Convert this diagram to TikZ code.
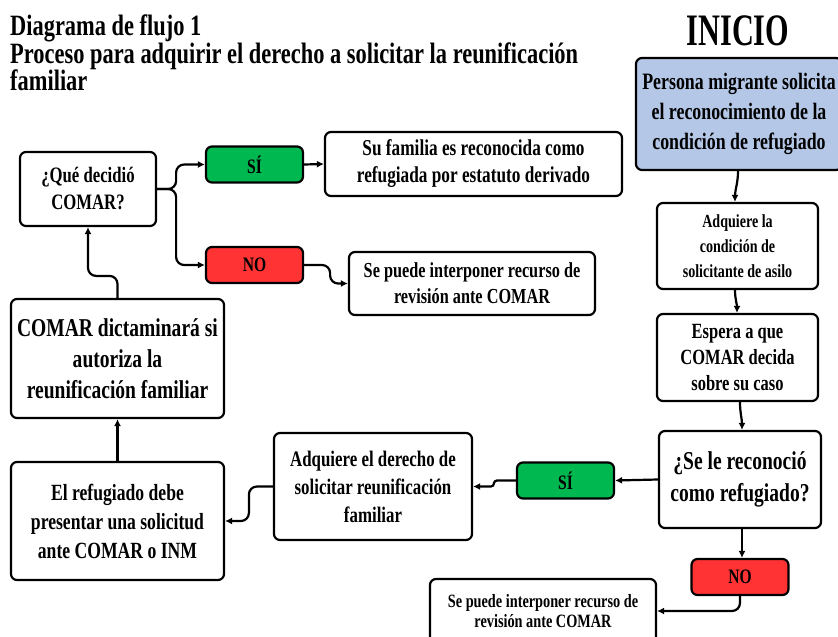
\documentclass[tikz,border=0pt]{standalone}
\usepackage{fontspec}
\usepackage{graphicx}
\setmainfont{Liberation Serif}[FakeStretch=0.76]
\usetikzlibrary{arrows.meta}
\definecolor{boxblue}{HTML}{B4C7E7}
\definecolor{sigreen}{HTML}{00B850}
\definecolor{nored}{HTML}{FF3333}
\newcommand{\fsz}[2]{\fontsize{#1}{#2}\selectfont\bfseries}
\tikzset{
  x=1pt, y=-1pt,
  flowbox/.style={draw=black, line width=2.2pt, rounded corners=6pt, align=center, inner sep=0pt, fill=white},
  sibox/.style={flowbox, fill=sigreen, minimum width=97pt, minimum height=36pt, font=\fsz{20.5}{22}},
  nobox/.style={flowbox, fill=nored, minimum width=97pt, minimum height=36pt, font=\fsz{20.5}{22}},
  arr/.style={line width=2.2pt, -{Latex[length=7pt,width=7pt]}, rounded corners=8pt},
}
\begin{document}
\begin{tikzpicture}
\useasboundingbox (0,0) rectangle (838,637);
% title
\node[anchor=north west, align=left, inner sep=0pt, font=\fsz{29.5}{27.5}] (title) at (10,15)
  {Diagrama de flujo 1\\Proceso para adquirir el derecho a solicitar la reunificación\\familiar};
\node[inner sep=0pt, font=\fsz{45}{46}] (inicio) at (738,31) {\scalebox{0.885}[1]{INICIO}};
% right column
\node[flowbox, fill=boxblue, minimum width=206pt, minimum height=112pt, font=\fsz{23.5}{30}] (start) at (739,114)
  {Persona migrante solicita\\el reconocimiento de la\\condición de refugiado};
\node[flowbox, minimum width=161pt, minimum height=86pt, font=\fsz{18.5}{25}] (b2) at (737.5,246)
  {Adquiere la\\condición de\\solicitante de asilo};
\node[flowbox, minimum width=161pt, minimum height=87pt, font=\fsz{21.7}{26}] (b3) at (737.5,357.5)
  {Espera a que\\COMAR decida\\sobre su caso};
\node[flowbox, minimum width=162pt, minimum height=97pt, font=\fsz{25.7}{32}] (b4) at (740,479.5)
  {¿Se le reconoció\\como refugiado?};
\node[sibox] (si2) at (565.5,480.5) {SÍ};
\node[nobox] (no2) at (740,577) {NO};
\node[flowbox, minimum width=226pt, minimum height=64pt, font=\fsz{18.8}{20}] (rec2) at (543,611)
  {Se puede interponer recurso de\\revisión ante COMAR};
\node[flowbox, minimum width=198pt, minimum height=107pt, font=\fsz{22.2}{28}] (adq) at (373,486.5)
  {Adquiere el derecho de\\solicitar reunificación\\familiar};
\node[flowbox, minimum width=213pt, minimum height=118pt, font=\fsz{23.2}{29}] (ref) at (117.5,521)
  {El refugiado debe\\presentar una solicitud\\ante COMAR o INM};
\node[flowbox, minimum width=213pt, minimum height=119pt, font=\fsz{25.7}{31}] (dict) at (117.5,358.5)
  {COMAR dictaminará si\\autoriza la\\reunificación familiar};
\node[flowbox, minimum width=136pt, minimum height=74pt, font=\fsz{22}{27}] (que) at (88,189)
  {¿Qué decidió\\COMAR?};
\node[sibox] (si1) at (254.5,164.5) {SÍ};
\node[nobox] (no1) at (254.5,265) {NO};
\node[flowbox, minimum width=297pt, minimum height=64pt, font=\fsz{22.7}{27}] (fam) at (473.5,164)
  {Su familia es reconocida como\\refugiada por estatuto derivado};
\node[flowbox, minimum width=246pt, minimum height=63pt, font=\fsz{21.4}{26}] (rec1) at (472,283.5)
  {Se puede interponer recurso de\\revisión ante COMAR};
% connectors
\draw[arr] ([xshift=-1pt]start.south) to[out=-90,in=90] ([xshift=-2.5pt]b2.north);
\draw[arr] ([xshift=-2.5pt]b2.south) to[out=-90,in=90] ([xshift=-0.5pt]b3.north);
\draw[arr] ([xshift=2.5pt]b3.south) to[out=-90,in=90] ([xshift=2pt]b4.north);
\draw[arr] (b4.west) -- (si2.east);
\draw[arr, rounded corners=3pt] (si2.west) -- ++(-22,0) |- (adq.east);
\draw[arr] (adq.west) -- ++(-24,0) |- (ref.east);
\draw[arr] (ref.north) -- (dict.south);
\draw[arr] (dict.north) -- ++(0,-22) -| (que.south);
\draw[arr] (que.east) -- ++(19,0) |- (si1.west);
\draw[arr] (que.east) -- ++(19,0) |- (no1.west);
\draw[arr] (si1.east) -- (fam.west);
\draw[arr] (no1.east) -- ++(26,0) |- (rec1.west);
\draw[arr] ([xshift=2pt]b4.south) to[out=-90,in=90] ([xshift=2pt]no2.north);
\draw[arr] (no2.south) |- (rec2.east);
\end{tikzpicture}
\end{document}
